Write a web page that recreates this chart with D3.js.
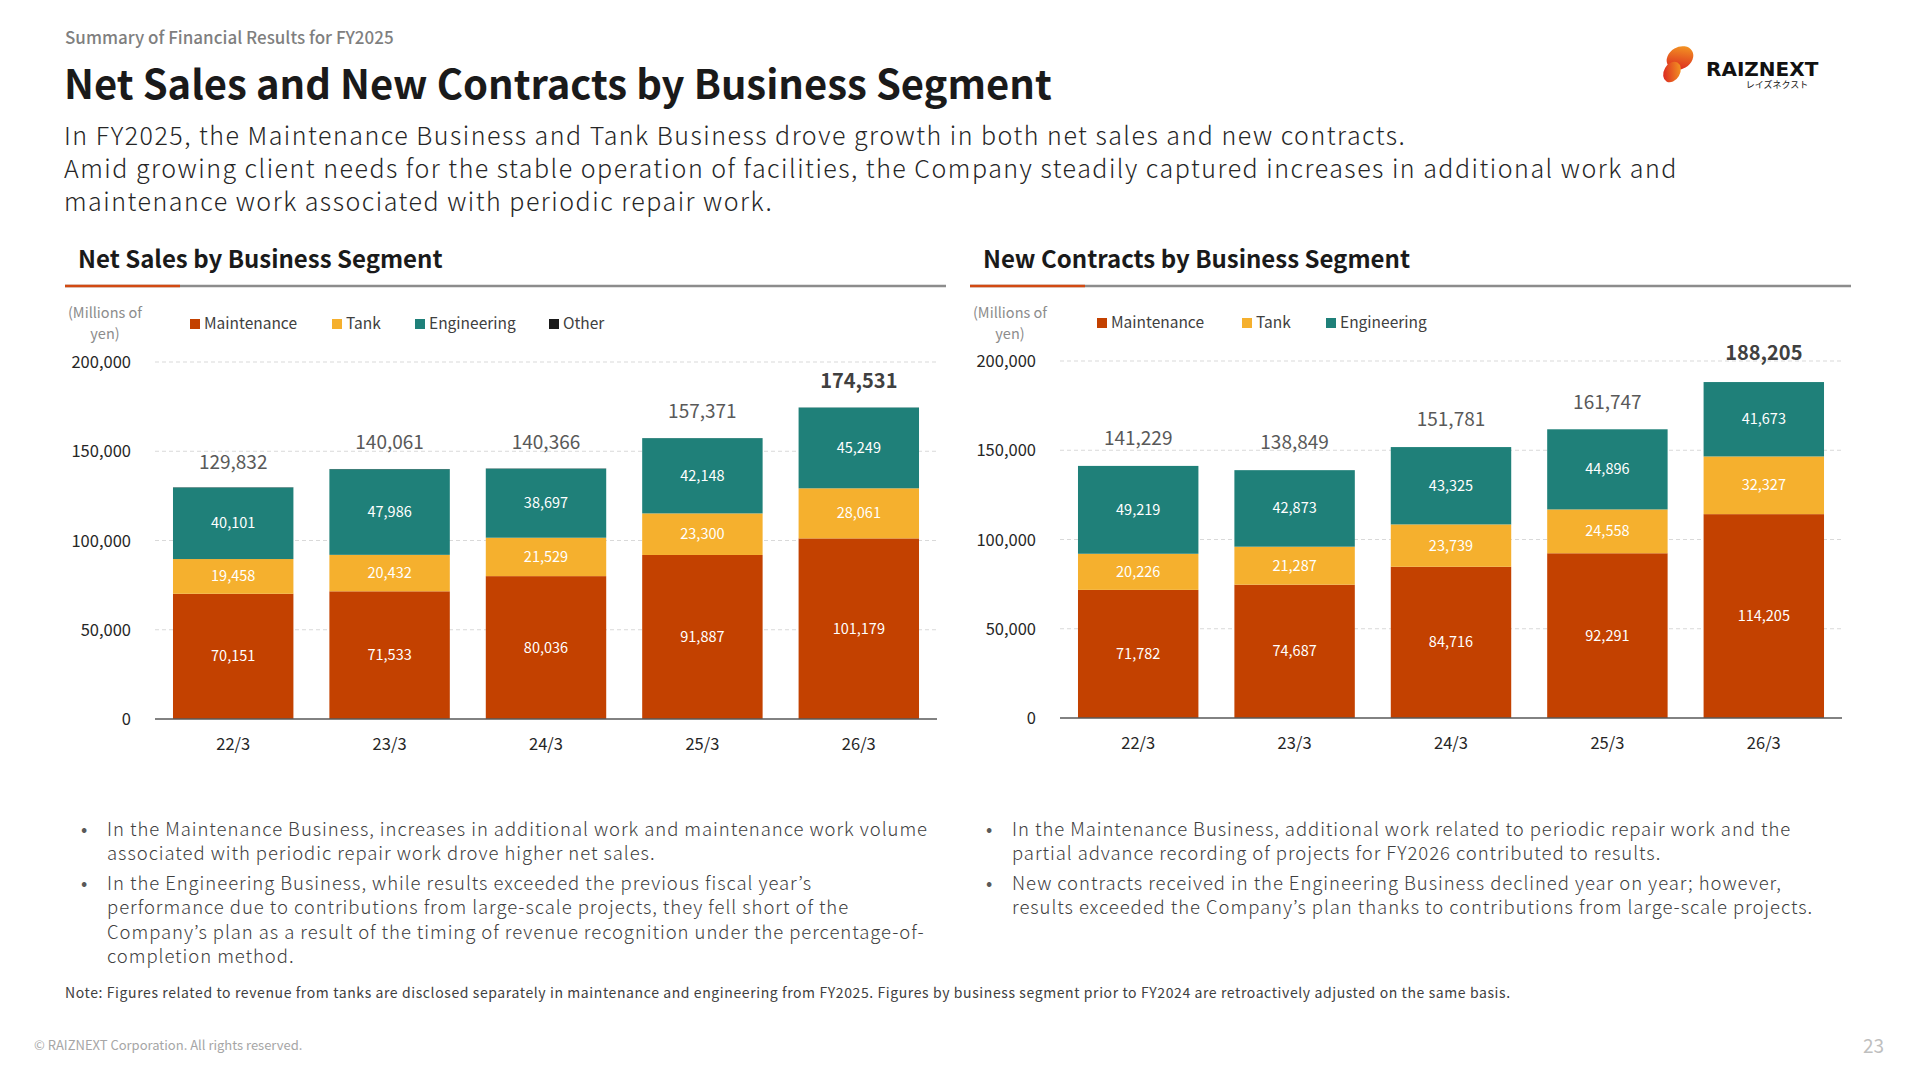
<!DOCTYPE html>
<html><head><meta charset="utf-8">
<script src="https://cdn.jsdelivr.net/npm/d3@7"></script>
<style>
body{margin:0;background:#fff;}
svg{font-family:"Noto Sans CJK JP","Noto Sans",sans-serif;}
</style></head>
<body><svg id="slide" width="1920" height="1080"></svg>
<script>
// data
const years = ["22/3","23/3","24/3","25/3","26/3"];
const salesMaint = [70151,71533,80036,91887,101179];
const salesTank = [19458,20432,21529,23300,28061];
const salesEng = [40101,47986,38697,42148,45249];
const salesOther = [122,110,104,36,42];
const salesTotal = [129832,140061,140366,157371,174531];
const contMaint = [71782,74687,84716,92291,114205];
const contTank = [20226,21287,23739,24558,32327];
const contEng = [49219,42873,43325,44896,41673];
const contTotal = [141229,138849,151781,161747,188205];
const yTicks = [0,50000,100000,150000,200000];

const colors = {Maintenance:"#C34100", Tank:"#F5B02E", Engineering:"#1F8079", Other:"#1a1a1a"};
const fmt = d3.format(",");
const svg = d3.select("#slide");

// header
svg.append("text").attr("x",65).attr("y",44).attr("font-size",17).attr("font-weight",500).attr("fill","#7f7f7f").text("Summary of Financial Results for FY2025");
svg.append("text").attr("x",64).attr("y",99).attr("font-size",40).attr("font-weight",700).attr("fill","#1a1a1a").text("Net Sales and New Contracts by Business Segment");
const body = ["In FY2025, the Maintenance Business and Tank Business drove growth in both net sales and new contracts.",
  "Amid growing client needs for the stable operation of facilities, the Company steadily captured increases in additional work and",
  "maintenance work associated with periodic repair work."];
body.forEach((t,i)=>svg.append("text").attr("x",64).attr("y",145+i*33).attr("font-size",25).attr("font-weight",300).attr("letter-spacing",1.5).attr("fill","#262626").text(t));

// logo
const lg = svg.append("defs").append("linearGradient").attr("id","lg").attr("x1","1").attr("y1","0").attr("x2","0").attr("y2","1");
lg.append("stop").attr("offset","0").attr("stop-color","#F7A823");
lg.append("stop").attr("offset","1").attr("stop-color","#D7141F");
svg.append("ellipse").attr("cx",1680).attr("cy",58).attr("rx",14).attr("ry",11).attr("fill","url(#lg)").attr("transform","rotate(-30,1680,58)");
svg.append("ellipse").attr("cx",1672).attr("cy",72).attr("rx",8).attr("ry",11).attr("fill","url(#lg)").attr("transform","rotate(30,1672,72)");
svg.append("text").attr("x",1706).attr("y",76).attr("font-size",20).attr("font-weight",700).attr("fill","#111").attr("font-family","DejaVu Sans").text("RAIZNEXT");
svg.append("text").attr("x",1777).attr("y",88).attr("font-size",9).attr("text-anchor","middle").attr("fill","#111").text("レイズネクスト");

function drawPanel(o){
  svg.append("text").attr("x",o.x0+13).attr("y",268).attr("font-size",24).attr("font-weight",700).attr("fill","#1a1a1a").text(o.title);
  svg.append("line").attr("x1",o.x0).attr("x2",o.x1).attr("y1",286).attr("y2",286).attr("stroke","#8c8c8c").attr("stroke-width",2.5);
  svg.append("line").attr("x1",o.x0).attr("x2",o.x0+115).attr("y1",286).attr("y2",286).attr("stroke","#D24A12").attr("stroke-width",2.5);
  svg.append("text").attr("x",o.x0+40).attr("y",318).attr("font-size",14.5).attr("text-anchor","middle").attr("fill","#8c8c8c").text("(Millions of");
  svg.append("text").attr("x",o.x0+40).attr("y",339).attr("font-size",14.5).attr("text-anchor","middle").attr("fill","#8c8c8c").text("yen)");
  o.legend.forEach((k,i)=>{
    const g = svg.append("g").attr("transform",`translate(${o.legX[i]},${o.legY})`);
    g.append("rect").attr("x",0).attr("y",-10).attr("width",10).attr("height",10).attr("fill",colors[k]);
    g.append("text").attr("x",14).attr("y",0).attr("font-size",15.5).attr("fill","#404040").text(k);
  });
  const x = d3.scaleBand().domain(years).range([o.px0,o.px1]).paddingInner(0.23).paddingOuter(0.115);
  const y = d3.scaleLinear().domain([0,200000]).range([o.py0,o.py1]);
  const grid = svg.append("g");
  yTicks.forEach(t=>{
    if(t>0) grid.append("line").attr("x1",o.px0).attr("x2",o.px1).attr("y1",y(t)).attr("y2",y(t)).attr("stroke","#d9d9d9").attr("stroke-dasharray","4,3");
    grid.append("text").attr("x",o.px0-24).attr("y",y(t)+6).attr("text-anchor","end").attr("font-size",16.5).attr("fill","#262626").text(fmt(t));
  });
  const stack = d3.stack().keys(o.keys)(years.map((yr,i)=>{const r={year:yr};o.keys.forEach(k=>r[k]=o.series[k][i]);return r;}));
  stack.forEach(layer=>{
    svg.append("g").selectAll("rect").data(layer).join("rect")
      .attr("x",d=>x(d.data.year)).attr("width",x.bandwidth())
      .attr("y",d=>y(d[1])).attr("height",d=>y(d[0])-y(d[1]))
      .attr("fill",colors[layer.key]);
    if(layer.key!=="Other"){
      svg.append("g").selectAll("text").data(layer).join("text")
        .attr("x",d=>x(d.data.year)+x.bandwidth()/2)
        .attr("y",d=>(y(d[0])+y(d[1]))/2+5)
        .attr("text-anchor","middle").attr("font-size",14.5).attr("fill","#fff")
        .text(d=>fmt(d[1]-d[0]));
    }
  });
  svg.append("line").attr("x1",o.px0).attr("x2",o.px1).attr("y1",o.py0).attr("y2",o.py0).attr("stroke","#595959").attr("stroke-width",1.5);
  svg.append("g").selectAll("text").data(years).join("text")
    .attr("x",d=>x(d)+x.bandwidth()/2).attr("y",o.py0+31).attr("text-anchor","middle").attr("font-size",16.5).attr("fill","#262626").text(d=>d);
  svg.append("g").selectAll("text").data(o.total).join("text")
    .attr("x",(d,i)=>x(years[i])+x.bandwidth()/2)
    .attr("y",(d,i)=>y(d)-o.totOff[i])
    .attr("text-anchor","middle")
    .attr("font-size",(d,i)=>i===4?20:19)
    .attr("font-weight",(d,i)=>i===4?700:400)
    .attr("fill",(d,i)=>i===4?"#404040":"#595959")
    .text(d=>fmt(d));
  o.bullets.forEach(b=>{
    if(b.dot) svg.append("text").attr("x",o.x0+16).attr("y",b.y).attr("font-size",18.5).attr("fill","#595959").text("•");
    svg.append("text").attr("x",o.x0+42).attr("y",b.y).attr("font-size",18.5).attr("font-weight",300).attr("letter-spacing",0.95).attr("fill","#404040").text(b.t);
  });
}

drawPanel({title:"Net Sales by Business Segment",x0:65,x1:946,px0:155,px1:937,py0:719,py1:362,
  legend:["Maintenance","Tank","Engineering","Other"],legX:[190,332,415,549],legY:329,
  keys:["Maintenance","Tank","Engineering","Other"],
  series:{Maintenance:salesMaint,Tank:salesTank,Engineering:salesEng,Other:salesOther},
  total:salesTotal,totOff:[18,20,19,20,19],
  bullets:[{dot:1,y:836,t:"In the Maintenance Business, increases in additional work and maintenance work volume"},
    {y:860,t:"associated with periodic repair work drove higher net sales."},
    {dot:1,y:890,t:"In the Engineering Business, while results exceeded the previous fiscal year’s"},
    {y:914,t:"performance due to contributions from large-scale projects, they fell short of the"},
    {y:939,t:"Company’s plan as a result of the timing of revenue recognition under the percentage-of-"},
    {y:963,t:"completion method."}]});
drawPanel({title:"New Contracts by Business Segment",x0:970,x1:1851,px0:1060,px1:1842,py0:718,py1:361,
  legend:["Maintenance","Tank","Engineering"],legX:[1097,1242,1326],legY:328,
  keys:["Maintenance","Tank","Engineering"],
  series:{Maintenance:contMaint,Tank:contTank,Engineering:contEng},
  total:contTotal,totOff:[21,21,21,20,22],
  bullets:[{dot:1,y:836,t:"In the Maintenance Business, additional work related to periodic repair work and the"},
    {y:860,t:"partial advance recording of projects for FY2026 contributed to results."},
    {dot:1,y:890,t:"New contracts received in the Engineering Business declined year on year; however,"},
    {y:914,t:"results exceeded the Company’s plan thanks to  contributions from large-scale projects."}]});

svg.append("text").attr("x",65).attr("y",998).attr("font-size",14).attr("letter-spacing",0.6).attr("fill","#404040").text("Note: Figures related to revenue from tanks are disclosed separately in maintenance and engineering from FY2025. Figures by business segment prior to FY2024 are retroactively adjusted on the same basis.");
svg.append("text").attr("x",34).attr("y",1050).attr("font-size",13).attr("fill","#a6a6a6").text("© RAIZNEXT Corporation. All rights reserved.");
svg.append("text").attr("x",1884).attr("y",1053).attr("text-anchor","end").attr("font-size",19).attr("fill","#bfbfbf").text("23");
</script></body></html>
